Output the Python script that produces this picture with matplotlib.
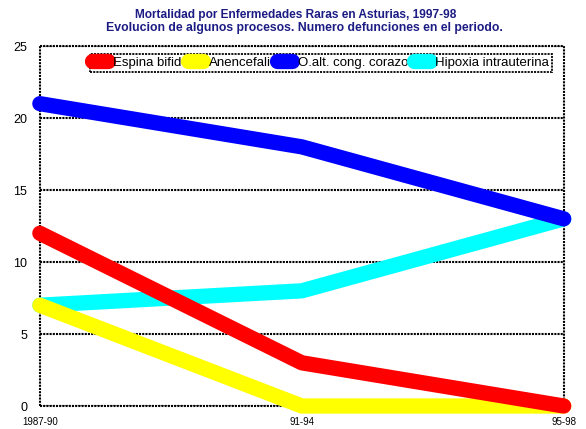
import matplotlib.pyplot as plt

periods = ['1987-90', '91-94', '95-98']
espina = [12, 3, 0]
anencefalia = [7, 0, 0]
corazon = [21, 18, 13]
hipoxia = [7, 8, 13]
labels = ['Espina bifid', 'Anencefali', 'O.alt. cong. corazo', 'Hipoxia intrauterina']

plt.rcParams['font.family'] = ['Liberation Sans', 'DejaVu Sans']
plt.rcParams['lines.scale_dashes'] = False

fig = plt.figure(figsize=(5.86, 4.29), dpi=100)
ax = fig.add_axes([0.068, 0.0536, 0.894, 0.839])

x = range(len(periods))
lw = 11
kw = dict(lw=lw, solid_capstyle='round', solid_joinstyle='round', clip_on=False)
l1, = ax.plot(x, espina, color='#ff0000', zorder=6, **kw)
l2, = ax.plot(x, anencefalia, color='#ffff00', zorder=5, **kw)
l3, = ax.plot(x, corazon, color='#0000ff', zorder=4, **kw)
l4, = ax.plot(x, hipoxia, color='#00ffff', zorder=3, **kw)

dash = (0, (1.5, 0.8))
ax.set_xlim(0, 2)
ax.set_ylim(0, 25)
ax.set_yticks([0, 5, 10, 15, 20, 25])
ax.set_xticks(list(x))
ax.set_xticklabels(periods)
ax.tick_params(axis='x', length=0, labelsize=7, pad=8)
ax.tick_params(axis='y', length=0, labelsize=9, pad=9)
ax.yaxis.grid(True, color='black', linestyle=dash, linewidth=1.5)
ax.set_axisbelow(True)
for s in ax.spines.values():
    s.set_visible(False)
# dashed frame
for xx in (0, 1):
    ax.plot([xx, xx], [0, 1], transform=ax.transAxes, color='black',
            linestyle=dash, lw=1.5, zorder=1, clip_on=False)
for yy in (0, 1):
    ax.plot([0, 1], [yy, yy], transform=ax.transAxes, color='black',
            linestyle=dash, lw=1.5, zorder=1, clip_on=False)

leg = ax.legend([l1, l2, l3, l4], labels, ncol=4, loc='upper right',
                bbox_to_anchor=(0.977, 0.978), fontsize=9.5, handlelength=1.2,
                handletextpad=0.4, columnspacing=0.45, borderpad=0.2,
                fancybox=False, framealpha=1, borderaxespad=0)
leg.get_frame().set_edgecolor('black')
leg.get_frame().set_linestyle(dash)
leg.get_frame().set_linewidth(1.3)
leg.set_zorder(10)

fig.text(0.504, 0.966, 'Mortalidad por Enfermedades Raras en Asturias, 1997-98',
         ha='center', va='center', fontsize=8.6, fontweight='bold', color='#1c1c84')
fig.text(0.519, 0.935, 'Evolucion de algunos procesos. Numero defunciones en el periodo.',
         ha='center', va='center', fontsize=8.8, fontweight='bold', color='#1c1c84')

fig.savefig('out.png', dpi=100)
